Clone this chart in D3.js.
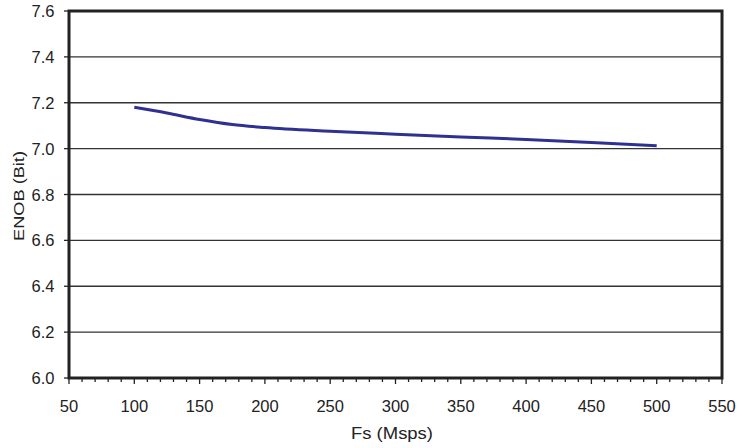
<!DOCTYPE html>
<html><head><meta charset="utf-8">
<script src="https://cdn.jsdelivr.net/npm/d3@7"></script>
<style>body{margin:0;background:#fff;}svg{display:block;font-family:"Liberation Sans",Arial,sans-serif;}</style>
</head><body><svg id="c" width="743" height="448"></svg>
<script>
const fsValues = [100,125,150,175,200,250,300,350,400,450,500];
const enobValues = [7.18,7.155,7.127,7.105,7.092,7.076,7.063,7.051,7.04,7.027,7.013];
const xTicks = [50,100,150,200,250,300,350,400,450,500,550];
const yTicks = [6.0,6.2,6.4,6.6,6.8,7.0,7.2,7.4,7.6];
const xLabel = "Fs (Msps)";
const yLabel = "ENOB (Bit)";

const svg = d3.select("#c");
const L=69, R=722, T=11, B=378;
const x = d3.scaleLinear().domain([50,550]).range([L,R]);
const y = d3.scaleLinear().domain([6.0,7.6]).range([B,T]);

// gridlines
svg.append("g").selectAll("line").data(yTicks.slice(1,-1)).join("line")
  .attr("x1",L).attr("x2",R).attr("y1",d=>y(d)).attr("y2",d=>y(d))
  .attr("stroke","#333").attr("stroke-width",1.3);

// x axis minor ticks
const minor = d3.range(50,551,10);
svg.append("g").selectAll("line").data(minor).join("line")
  .attr("x1",d=>x(d)).attr("x2",d=>x(d)).attr("y1",B).attr("y2",d=>d%50===0?B+6:B+4)
  .attr("stroke","#222").attr("stroke-width",1.3);

// y ticks
svg.append("g").selectAll("line").data(yTicks).join("line")
  .attr("x1",L-5).attr("x2",L).attr("y1",d=>y(d)).attr("y2",d=>y(d))
  .attr("stroke","#222").attr("stroke-width",1.3);

// frame
svg.append("rect").attr("x",L).attr("y",T).attr("width",R-L).attr("height",B-T)
  .attr("fill","none").attr("stroke","#222").attr("stroke-width",3);

// tick labels
svg.append("g").selectAll("text").data(xTicks).join("text")
  .attr("x",d=>x(d)).attr("y",411.5).attr("text-anchor","middle")
  .attr("font-size",16.5).attr("fill","#222").text(d=>d);
svg.append("g").selectAll("text").data(yTicks).join("text")
  .attr("x",54.5).attr("y",d=>y(d)+6).attr("text-anchor","end")
  .attr("font-size",16.5).attr("fill","#222").text(d=>d.toFixed(1));

// axis titles
svg.append("text").attr("x",392).attr("y",439).attr("text-anchor","middle")
  .attr("font-size",16.5).attr("textLength",82).attr("lengthAdjust","spacingAndGlyphs")
  .attr("fill","#222").text(xLabel);
svg.append("text").attr("transform",`translate(24,196) rotate(-90)`)
  .attr("text-anchor","middle").attr("font-size",15.5).attr("textLength",90).attr("lengthAdjust","spacingAndGlyphs")
  .attr("fill","#222").text(yLabel);

// line
const line = d3.line().x((d,i)=>x(fsValues[i])).y(d=>y(d)).curve(d3.curveMonotoneX);
svg.append("path").datum(enobValues).attr("d",line)
  .attr("fill","none").attr("stroke","#2e3192").attr("stroke-width",3);
</script></body></html>
